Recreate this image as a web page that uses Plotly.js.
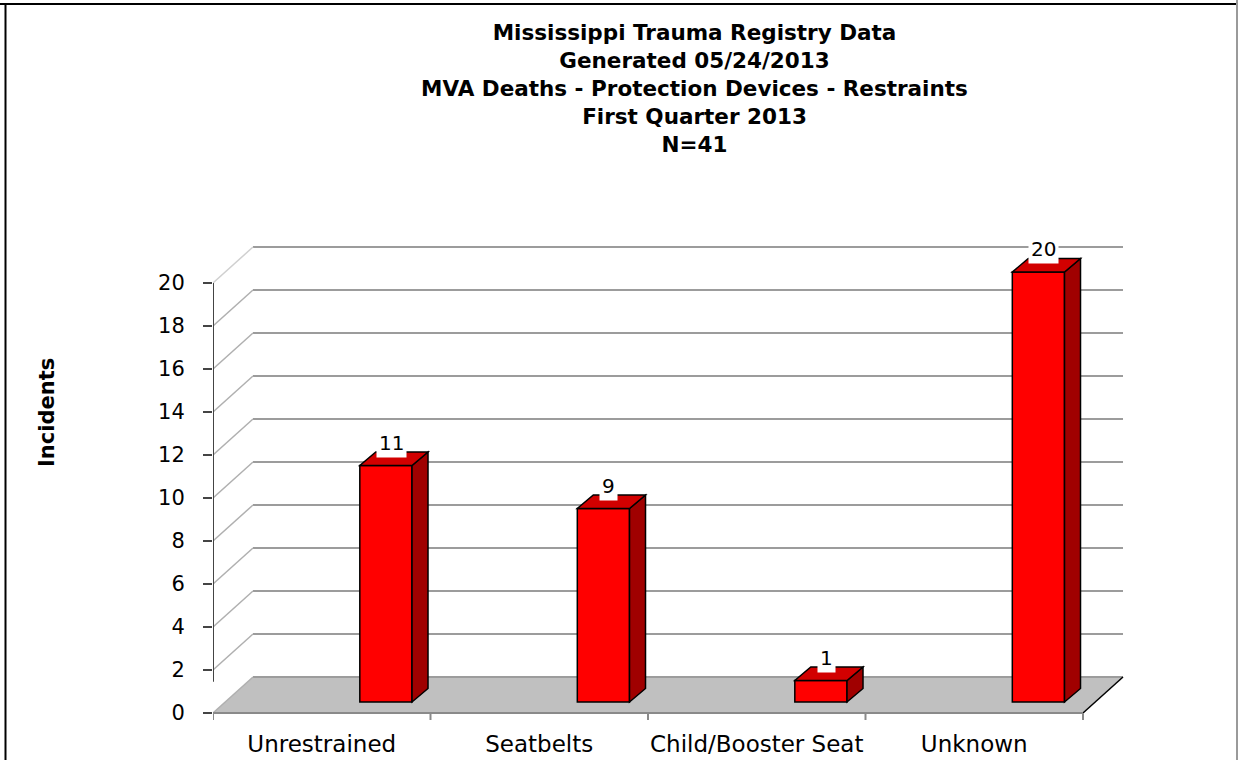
<!DOCTYPE html>
<html>
<head>
<meta charset="utf-8">
<script src="https://cdn.plot.ly/plotly-3.0.1.min.js"></script>
<style>
  html, body { margin: 0; padding: 0; background: #ffffff; }
  #chart { width: 1238px; height: 760px; }
</style>
</head>
<body>
<div id="chart"></div>
<script>
// ---------------- data ----------------
const categories = ['Unrestrained', 'Seatbelts', 'Child/Booster Seat', 'Unknown'];
const incidents = [11, 9, 1, 20];
const yTickVals = [0, 2, 4, 6, 8, 10, 12, 14, 16, 18, 20];
const titleLines = [
  'Mississippi Trauma Registry Data',
  'Generated 05/24/2013',
  'MVA Deaths - Protection Devices - Restraints',
  'First Quarter 2013',
  'N=41'
];
const yAxisTitle = 'Incidents';

// ---------------- style / geometry ----------------
const W = 1238, H = 760;
const PLOT = { l: 213, r: 1130, t: 238, b: 722 };   // pixel box of the plot area
const PX_PER_X = 217.5;          // pixels per category
const PX_PER_Y = 21.5;           // pixels per incident
const ZERO_PX = 713;             // pixel row of value 0 on the front axis
const xRange = [-0.5, -0.5 + (PLOT.r - PLOT.l) / PX_PER_X];
const yRange = [-(PLOT.b - ZERO_PX) / PX_PER_Y, (ZERO_PX - PLOT.t) / PX_PER_Y];

const WALL_DX = 40 / PX_PER_X, WALL_DY = 36 / PX_PER_Y;  // depth of the 3D box
const BAR_BASE = 11 / PX_PER_Y;                          // bar front sits inside the floor
const BAR_OFFSET = 0.175, BAR_WIDTH = 0.24;
const SIDE_DX = 16 / PX_PER_X, SIDE_DY = 13.5 / PX_PER_Y;
const X_START = -0.5, X_END = categories.length - 0.5;

const FONT = 'DejaVu Sans, Liberation Sans, Arial, sans-serif';
const RED = '#ff0000', RED_TOP = '#d20000', RED_SIDE = '#a00000';
const GRID = '#9c9c9c', GRID_DIAG = '#b0b0b0';

const px2paperX = px => (px - PLOT.l) / (PLOT.r - PLOT.l);
const px2paperY = py => (PLOT.b - py) / (PLOT.b - PLOT.t);

const shapes = [];
// floor
shapes.push({
  type: 'path', xref: 'x', yref: 'y', layer: 'below',
  path: `M ${X_START} 0 L ${X_START + WALL_DX} ${WALL_DY} L ${X_END + WALL_DX} ${WALL_DY} L ${X_END} 0 Z`,
  fillcolor: '#c0c0c0', line: { width: 0 }
});
// back wall gridlines & left wall diagonals
yTickVals.forEach(v => {
  shapes.push({
    type: 'line', xref: 'x', yref: 'y', layer: 'below',
    x0: X_START + WALL_DX, y0: v + WALL_DY, x1: X_END + WALL_DX, y1: v + WALL_DY,
    line: { color: GRID, width: 2 }
  });
  shapes.push({
    type: 'line', xref: 'x', yref: 'y', layer: 'below',
    x0: X_START, y0: v, x1: X_START + WALL_DX, y1: v + WALL_DY,
    line: { color: v === yTickVals[yTickVals.length - 1] ? '#d0d0d0' : GRID_DIAG, width: 1.5 }
  });
});
// floor right edge
shapes.push({
  type: 'line', xref: 'x', yref: 'y', layer: 'below',
  x0: X_END, y0: 0, x1: X_END + WALL_DX, y1: WALL_DY,
  line: { color: '#000000', width: 1.5 }
});
// front x axis line and category boundary ticks
shapes.push({
  type: 'line', xref: 'x', yref: 'y', layer: 'below',
  x0: X_START, y0: 0, x1: X_END, y1: 0, line: { color: '#8a8a8a', width: 2 }
});
for (let k = 0; k <= categories.length; k++) {
  shapes.push({
    type: 'line', xref: 'x', yref: 'y', layer: 'below',
    x0: X_START + k, y0: 0, x1: X_START + k, y1: -7 / PX_PER_Y,
    line: { color: '#8a8a8a', width: 2 }
  });
}
// front y axis line
shapes.push({
  type: 'line', xref: 'x', yref: 'y', layer: 'below',
  x0: X_START, y0: 1.45, x1: X_START, y1: yTickVals[yTickVals.length - 1],
  line: { color: '#444444', width: 2 }
});
// 3D bar side and top faces
incidents.forEach((v, i) => {
  const x0 = i + BAR_OFFSET, x1 = x0 + BAR_WIDTH;
  const yb = BAR_BASE, yt = BAR_BASE + v;
  shapes.push({
    type: 'path', xref: 'x', yref: 'y', layer: 'above',
    path: `M ${x1} ${yb} L ${x1} ${yt} L ${x1 + SIDE_DX} ${yt + SIDE_DY} L ${x1 + SIDE_DX} ${yb + SIDE_DY} Z`,
    fillcolor: RED_SIDE, line: { color: '#000000', width: 1.5 }
  });
  shapes.push({
    type: 'path', xref: 'x', yref: 'y', layer: 'above',
    path: `M ${x0} ${yt} L ${x1} ${yt} L ${x1 + SIDE_DX} ${yt + SIDE_DY} L ${x0 + SIDE_DX} ${yt + SIDE_DY} Z`,
    fillcolor: RED_TOP, line: { color: '#000000', width: 1.5 }
  });
});
// outer frame
shapes.push({ type: 'line', xref: 'paper', yref: 'paper',
  x0: px2paperX(0), x1: px2paperX(W), y0: px2paperY(4), y1: px2paperY(4),
  line: { color: '#000000', width: 2 } });
shapes.push({ type: 'line', xref: 'paper', yref: 'paper',
  x0: px2paperX(5.5), x1: px2paperX(5.5), y0: px2paperY(4), y1: px2paperY(H),
  line: { color: '#000000', width: 2 } });
shapes.push({ type: 'line', xref: 'paper', yref: 'paper',
  x0: px2paperX(1237), x1: px2paperX(1237), y0: px2paperY(0), y1: px2paperY(H),
  line: { color: '#9a9a9a', width: 2 } });

// value labels
const annotations = incidents.map((v, i) => ({
  x: i + BAR_OFFSET + BAR_WIDTH / 2 + SIDE_DX / 3, y: BAR_BASE + v, xref: 'x', yref: 'y',
  text: String(v), showarrow: false, yanchor: 'bottom', xanchor: 'center', yshift: 8,
  bgcolor: '#ffffff', borderpad: 2,
  font: { family: FONT, size: 20, color: '#000000' }
}));
annotations.push({
  x: px2paperX(47), y: px2paperY(413), xref: 'paper', yref: 'paper',
  text: yAxisTitle, textangle: -90, showarrow: false,
  xanchor: 'center', yanchor: 'middle',
  font: { family: FONT, size: 21, color: '#000000', weight: 'bold' }
});

const trace = {
  type: 'bar',
  x: categories.map((c, i) => i),
  y: incidents,
  base: BAR_BASE,
  offset: BAR_OFFSET,
  width: BAR_WIDTH,
  marker: { color: RED, line: { color: '#000000', width: 1.5 } },
  hoverinfo: 'skip',
  cliponaxis: false
};

const layout = {
  width: W, height: H,
  paper_bgcolor: '#ffffff', plot_bgcolor: 'rgba(0,0,0,0)',
  margin: { l: PLOT.l, r: W - PLOT.r, t: PLOT.t, b: H - PLOT.b, pad: 0 },
  showlegend: false,
  hovermode: false,
  title: {
    text: titleLines.join('<br>'),
    x: 694.5 / W, xref: 'container', xanchor: 'center',
    y: 1 - 40 / H, yref: 'container', yanchor: 'top',
    font: { family: FONT, size: 21.5, color: '#000000', weight: 'bold' }
  },
  xaxis: {
    range: xRange, fixedrange: true,
    tickvals: categories.map((c, i) => i), ticktext: categories,
    showgrid: false, zeroline: false, showline: false, ticks: '',
    ticklabelstandoff: 6,
    tickfont: { family: FONT, size: 23, color: '#000000' }
  },
  yaxis: {
    range: yRange, fixedrange: true,
    tickvals: yTickVals, ticktext: yTickVals.map(String),
    showgrid: false, zeroline: false, showline: false,
    ticks: 'outside', ticklen: 9, tickwidth: 2, tickcolor: '#444444',
    ticklabelstandoff: 14,
    tickfont: { family: FONT, size: 21, color: '#000000' }
  },
  shapes: shapes,
  annotations: annotations
};

Plotly.newPlot('chart', [trace], layout, { displayModeBar: false, staticPlot: true });
</script>
</body>
</html>
